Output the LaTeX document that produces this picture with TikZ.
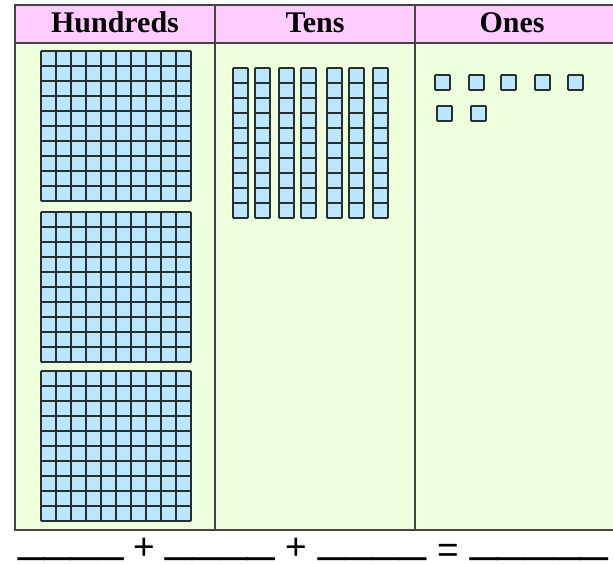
\documentclass[tikz,border=0pt]{standalone}
\usepackage{fontspec}
\setmainfont{Liberation Serif}
\newfontfamily\blankfont{Liberation Sans}
\definecolor{hdrpink}{RGB}{255,204,255}
\definecolor{bodygreen}{RGB}{238,255,221}
\definecolor{cellblue}{RGB}{187,230,255}
\definecolor{framegray}{RGB}{68,68,68}
\definecolor{cellgray}{RGB}{38,48,48}
\newcommand{\blockgrid}[4]{%
  \fill[cellblue] (#1,#2) rectangle ++({15*#3},{15*#4});
  \foreach \gi in {0,...,#3} \draw[cellline] ({#1+15*\gi},#2) -- ++(0,{15*#4});
  \foreach \gj in {0,...,#4} \draw[cellline] (#1,{#2+15*\gj}) -- ++({15*#3},0);
}
\begin{document}
\begin{tikzpicture}[x=1pt,y=-1pt,
  frameline/.style={draw=framegray, line width=2pt},
  cellline/.style={draw=cellgray, line width=2pt, line cap=square},
  hdrtext/.style={font=\fontsize{30}{36}\selectfont\bfseries, inner sep=0pt, anchor=base},
  blanktext/.style={font=\blankfont\fontsize{46}{50}\selectfont, inner sep=0pt, anchor=base west},
  optext/.style={font=\blankfont\fontsize{37}{40}\selectfont, inner sep=0pt, anchor=center}]
\useasboundingbox (0,0) rectangle (613,564);
\clip (0,0) rectangle (613,564);
\fill[white] (0,0) rectangle (613,564);
% table
\filldraw[fill=hdrpink, frameline] (15,5) rectangle (625,43);
\filldraw[fill=bodygreen, frameline] (15,43) rectangle (625,530);
\draw[frameline] (215,5) -- (215,530);
\draw[frameline] (415,5) -- (415,530);
% headers
\node[hdrtext] (hund) at (115,33) {Hundreds};
\node[hdrtext] (tens) at (315,33) {Tens};
\node[hdrtext] (ones) at (512,33) {Ones};
% hundreds
\blockgrid{41}{51}{10}{10}
\blockgrid{41}{212}{10}{10}
\blockgrid{41}{371}{10}{10}
% tens
\foreach \tx in {233,255,279,301,327,349,373} {\blockgrid{\tx}{68}{1}{10}}
% ones
\foreach \ox in {435,469,501,535,568} {\blockgrid{\ox}{75}{1}{1}}
\foreach \ox in {437,471} {\blockgrid{\ox}{106}{1}{1}}
% bottom line
\node[blanktext] (b1) at (18,551.5) {\scalebox{1.03}[1]{\_\_\_\_}};
\node[optext] (p1) at (144,549) {+};
\node[blanktext] (b2) at (165,551.5) {\scalebox{1.075}[1]{\_\_\_\_}};
\node[optext] (p2) at (296,549) {+};
\node[blanktext] (b3) at (318,551.5) {\scalebox{1.055}[1]{\_\_\_\_}};
\node[optext] (eq) at (448,553) {=};
\node[blanktext] (b4) at (470,551.5) {\scalebox{1.08}[1]{\_\_\_\_\_}};
\end{tikzpicture}
\end{document}
